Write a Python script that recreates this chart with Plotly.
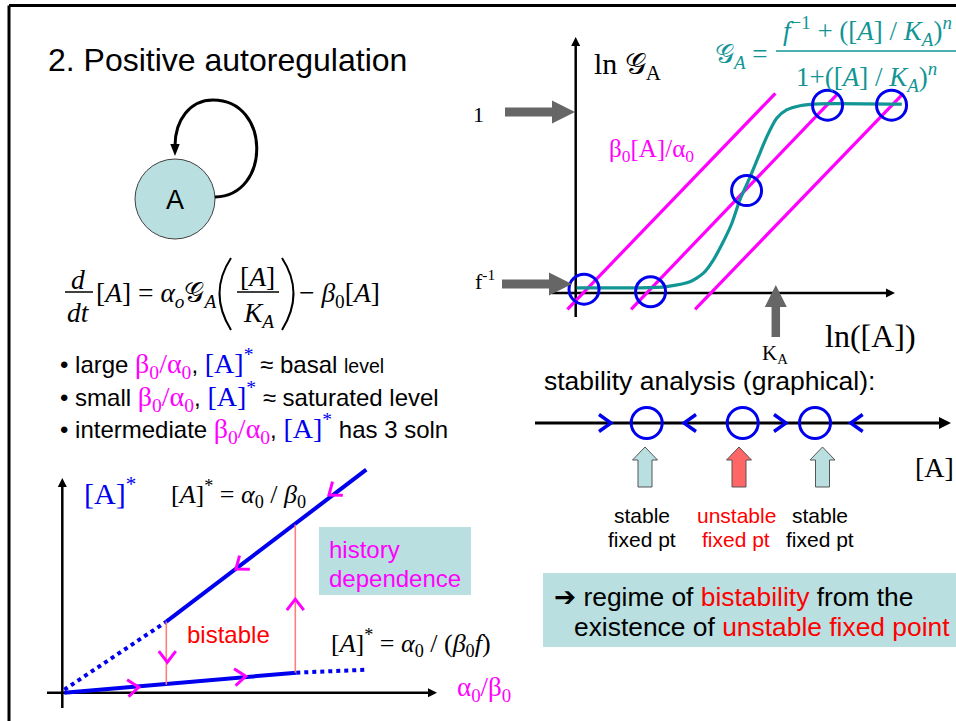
import math
import plotly.graph_objects as go

W, H = 956, 721

# ---------------- data ----------------
# Top-right plot: ln G_A versus ln([A]) (log units, origin at the axis crossing)
sig_lnA = [0.03, 1.00, 2.01, 2.84, 3.57, 3.99, 4.30, 4.61, 4.88, 5.13, 5.45, 5.71,
           5.97, 6.28, 6.59, 7.01, 7.63, 10.19]
sig_lnG = [0.16, 0.16, 0.16, 0.20, 0.35, 0.62, 1.03, 1.60, 2.18, 2.91, 3.63, 4.26,
           4.88, 5.46, 5.72, 5.85, 5.91, 5.90]
# degradation lines beta0[A]/alpha0 for three values of beta0/alpha0
deg_lnA_start = [-0.26, 1.73, 3.73]
deg_lnA_end = [6.24, 8.20, 10.24]
deg_lnG_start = [-0.51, -0.51, -0.51]
deg_lnG_end = [6.24, 6.24, 6.24]
# intersections (fixed points)
fp_lnA = [0.26, 2.34, 5.34, 7.87, 9.87]
fp_lnG = [0.12, 0.04, 3.20, 5.87, 5.87]

# Bottom-left plot: [A]* versus alpha0/beta0
high_solid_x = [1.04, 3.04]
high_solid_y = [0.71, 2.23]
high_dotted_x = [0.02, 1.04]
high_dotted_y = [0.03, 0.71]
low_solid_x = [0.02, 2.34]
low_solid_y = [0.00, 0.20]
low_dotted_x = [2.34, 3.04]
low_dotted_y = [0.20, 0.23]
jump_down_x = [1.04, 1.04]
jump_down_y = [0.71, 0.08]
jump_up_x = [2.33, 2.33]
jump_up_y = [0.20, 1.68]
flow_x = [2.71, 1.78, 1.05, 2.33, 0.71, 1.78]
flow_y = [2.01, 1.27, 0.36, 0.88, 0.05, 0.16]
flow_dir = ["high", "high", "down", "up", "low", "low"]

# Stability analysis line ([A] axis)
stab_fp = [1.117, 2.077, 2.80]
stab_flow_x = [0.70, 1.55, 2.45, 3.217]
stab_flow_dir = [1, -1, 1, -1]
stab_marker_x = [1.10, 2.04, 2.875]
stab_marker_kind = ["stable", "unstable", "stable"]

# ---------------- styles ----------------
SANS = "Liberation Sans, Arial, DejaVu Sans, sans-serif"
SERIF = "Liberation Serif, Times New Roman, DejaVu Serif, serif"
MAG = "#FF00FF"
BLUE = "#0000EE"
TEAL = "#129595"
RED = "#FF0000"
GRAY = "#666666"
BOXFILL = "#B9DFE1"
SALMON = "#FF7F7F"

shapes, anns, traces = [], [], []
layout_axes = {}


def make_axes(n, left, right, top, bottom, ox, oy, scale):
    layout_axes[f"xaxis{n}"] = dict(domain=[left / W, right / W],
                                    range=[(left - ox) / scale, (right - ox) / scale],
                                    visible=False, anchor=f"y{n}", fixedrange=True)
    layout_axes[f"yaxis{n}"] = dict(domain=[1 - bottom / H, 1 - top / H],
                                    range=[(oy - bottom) / scale, (oy - top) / scale],
                                    visible=False, anchor=f"x{n}", fixedrange=True)
    return lambda x, y: (ox + x * scale, oy - y * scale)


def line(x0, y0, x1, y1, color="black", width=3, dash=None, layer="above"):
    shapes.append(dict(type="line", xref="x", yref="y", x0=x0, y0=y0, x1=x1, y1=y1,
                       line=dict(color=color, width=width, dash=dash), layer=layer))


def path(d, color="black", width=3, fill="rgba(0,0,0,0)", layer="above"):
    shapes.append(dict(type="path", xref="x", yref="y", path=d, fillcolor=fill,
                       line=dict(color=color, width=width), layer=layer))


def poly(pts, fill, outline=None, lw=0, layer="above"):
    d = "M " + " L ".join(f"{x:.2f},{y:.2f}" for x, y in pts) + " Z"
    shapes.append(dict(type="path", xref="x", yref="y", path=d, fillcolor=fill,
                       line=dict(color=outline or fill, width=lw), layer=layer))


def unit(x0, y0, x1, y1):
    dx, dy = x1 - x0, y1 - y0
    L = math.hypot(dx, dy)
    return dx / L, dy / L


def axis_arrow(x0, y0, x1, y1, width=2.5, head_len=9, head_w=9, color="black"):
    ux, uy = unit(x0, y0, x1, y1)
    px, py = -uy, ux
    bx, by = x1 - ux * head_len, y1 - uy * head_len
    line(x0, y0, bx + ux, by + uy, color=color, width=width, layer="below")
    poly([(x1, y1), (bx + px * head_w / 2, by + py * head_w / 2),
          (bx - px * head_w / 2, by - py * head_w / 2)], color, layer="below")


def block_arrow(x0, y0, x1, y1, shaft_w, head_w, head_len, fill, outline=None, lw=0):
    ux, uy = unit(x0, y0, x1, y1)
    px, py = -uy, ux
    nx, ny = x1 - ux * head_len, y1 - uy * head_len
    s, h = shaft_w / 2, head_w / 2
    pts = [(x0 + px * s, y0 + py * s), (nx + px * s, ny + py * s), (nx + px * h, ny + py * h),
           (x1, y1), (nx - px * h, ny - py * h), (nx - px * s, ny - py * s),
           (x0 - px * s, y0 - py * s)]
    poly(pts, fill, outline, lw)


def chevron(cx, cy, ux, uy, depth, width, color, lw=3):
    px, py = -uy, ux
    tip = (cx + ux * depth / 2, cy + uy * depth / 2)
    a = (cx - ux * depth / 2 + px * width / 2, cy - uy * depth / 2 + py * width / 2)
    b = (cx - ux * depth / 2 - px * width / 2, cy - uy * depth / 2 - py * width / 2)
    path(f"M {a[0]:.2f},{a[1]:.2f} L {tip[0]:.2f},{tip[1]:.2f} L {b[0]:.2f},{b[1]:.2f}",
         color=color, width=lw)


def text(x, y, t, size, color="black", family=SANS, xanchor="center", yanchor="middle"):
    anns.append(dict(x=x, y=y, xref="x", yref="y", text=t, showarrow=False,
                     font=dict(size=size, color=color, family=family),
                     xanchor=xanchor, yanchor=yanchor))


def span(s, color, size, family="Liberation Serif"):
    return f'<span style="font-family:{family};color:{color};font-size:{size}px">{s}</span>'


# ---------------- frame and title ----------------
line(9, 5.5, 956, 5.5, width=3)
line(9, 5.5, 9, 721, width=3)
text(46, 60, "2. Positive autoregulation", 32, xanchor="left")

# ---------------- node with self loop ----------------
shapes.append(dict(type="circle", xref="x", yref="y", x0=135, y0=159, x1=215, y1=239,
                   fillcolor=BOXFILL, line=dict(color="#404040", width=1), layer="below"))
text(175, 200, "A", 27)
path("M 215,197 C 271,196 271,100 213,100 C 190,100 175,120 175,146", width=3)
poly([(175, 156), (170.3, 144), (179.7, 144)], "black")

# ---------------- rate equation ----------------
EQ = 27.5
text(78, 279, "<i>d</i>", EQ, family=SERIF)
line(65, 292, 93, 292, width=1.5)
text(78, 312, "<i>dt</i>", EQ, family=SERIF)
text(94, 294, "[<i>A</i>] = <i>α<sub>o</sub></i>𝒢<sub><i>A</i></sub>", EQ, family=SERIF, xanchor="left")
path("M 231,258 Q 208,293 231,330", width=2)
text(257, 276, "[<i>A</i>]", EQ, family=SERIF)
line(237, 292, 279, 292, width=1.5)
text(258, 314, "<i>K<sub>A</sub></i>", EQ, family=SERIF)
path("M 282,258 Q 305,293 282,330", width=2)
text(297, 294, "− <i>β</i><sub>0</sub>[<i>A</i>]", EQ, family=SERIF, xanchor="left")

# ---------------- bullets ----------------
ba = span("β<sub>0</sub>/α<sub>0</sub>", MAG, 28)
astar = span("[A]<sup>*</sup>", BLUE, 28)
text(58, 363, f"• large {ba}, {astar} ≈ basal <span style=\"font-size:19.5px\">level</span>", 24, xanchor="left")
text(58, 396, f"• small {ba}, {astar} ≈ saturated level", 24, xanchor="left")
text(58, 428, f"• intermediate {ba}, {astar} has 3 soln", 24, xanchor="left")

# ---------------- bottom-left bifurcation plot ----------------
bif = make_axes(3, 40, 540, 440, 720, 62.3, 692.7, 100.0)
axis_arrow(62.3, 708, 62.3, 478)
axis_arrow(47, 692.7, 437, 692.7)

shapes.append(dict(type="rect", xref="x", yref="y", x0=319, y0=527, x1=471, y1=595,
                   fillcolor=BOXFILL, line=dict(width=0), layer="below"))

for xs, ys, dash in [(high_solid_x, high_solid_y, "solid"), (high_dotted_x, high_dotted_y, "dot"),
                     (low_solid_x, low_solid_y, "solid"), (low_dotted_x, low_dotted_y, "dot")]:
    traces.append(go.Scatter(x=xs, y=ys, mode="lines", xaxis="x3", yaxis="y3",
                             line=dict(color=BLUE, width=4, dash=dash), hoverinfo="skip"))
for xs, ys in [(jump_down_x, jump_down_y), (jump_up_x, jump_up_y)]:
    traces.append(go.Scatter(x=xs, y=ys, mode="lines", xaxis="x3", yaxis="y3",
                             line=dict(color=SALMON, width=1.6), hoverinfo="skip"))

hx0, hy0 = bif(high_solid_x[1], high_solid_y[1])
hx1, hy1 = bif(high_solid_x[0], high_solid_y[0])
lx0, ly0 = bif(low_solid_x[0], low_solid_y[0])
lx1, ly1 = bif(low_solid_x[1], low_solid_y[1])
dirs = {"high": unit(hx0, hy0, hx1, hy1), "low": unit(lx0, ly0, lx1, ly1),
        "down": (0, 1), "up": (0, -1)}
for fx, fy, fd in zip(flow_x, flow_y, flow_dir):
    cx, cy = bif(fx, fy)
    ux, uy = dirs[fd]
    chevron(cx, cy, ux, uy, 11, 17, MAG, lw=3)

text(82, 491, "[A]<sup>*</sup>", 30, BLUE, SERIF, xanchor="left")
text(169, 494, "[<i>A</i>]<sup>*</sup> = <i>α</i><sub>0</sub> / <i>β</i><sub>0</sub>", 26,
     family=SERIF, xanchor="left")
text(327, 549, "history", 24, MAG, xanchor="left")
text(327, 578, "dependence", 24, MAG, xanchor="left")
text(228, 634, "bistable", 24, RED)
text(329, 643, "[<i>A</i>]<sup>*</sup> = <i>α</i><sub>0</sub> / (<i>β</i><sub>0</sub><i>f</i>)", 26,
     family=SERIF, xanchor="left")
text(455, 689, "α<sub>0</sub>/β<sub>0</sub>", 27, MAG, SERIF, xanchor="left")

# ---------------- top-right plot ----------------
gp = make_axes(2, 530, 956, 20, 340, 575.7, 293.0, 32.0)
axis_arrow(575.7, 317, 575.7, 37)
axis_arrow(552, 293, 895, 293)

for xs0, xs1, ys0, ys1 in zip(deg_lnA_start, deg_lnA_end, deg_lnG_start, deg_lnG_end):
    traces.append(go.Scatter(x=[xs0, xs1], y=[ys0, ys1], mode="lines", xaxis="x2", yaxis="y2",
                             line=dict(color=MAG, width=3.2), hoverinfo="skip"))
traces.append(go.Scatter(x=sig_lnA, y=sig_lnG, mode="lines", xaxis="x2", yaxis="y2",
                         line=dict(color=TEAL, width=3.2, shape="spline", smoothing=0.6),
                         hoverinfo="skip"))
traces.append(go.Scatter(x=fp_lnA, y=fp_lnG, mode="markers", xaxis="x2", yaxis="y2",
                         marker=dict(symbol="circle-open", size=30, color=BLUE,
                                     line=dict(color=BLUE, width=3)), hoverinfo="skip"))

block_arrow(505, 112, 575, 112, 9, 23, 23, GRAY)
block_arrow(502, 284, 572, 284, 9, 23, 23, GRAY)
block_arrow(775.8, 337, 775.8, 285, 8.5, 22, 22, GRAY)

text(478, 114, "1", 22, family=SERIF)
text(473, 280, "f<sup>-1</sup>", 22, family=SERIF, xanchor="left")
text(592, 66, "ln 𝒢<sub>A</sub>", 30, family=SERIF, xanchor="left")
text(607, 150, "β<sub>0</sub>[A]/α<sub>0</sub>", 25, MAG, SERIF, xanchor="left")
text(760, 354, "K<sub>A</sub>", 21, family=SERIF, xanchor="left")
text(823, 336, "ln([A])", 32, family=SERIF, xanchor="left")

# G_A formula
text(713, 56, "𝒢<sub><i>A</i></sub> =", 27, TEAL, SERIF, xanchor="left")
text(867, 31, "<i>f</i><sup>−1</sup> + ([<i>A</i>] / <i>K<sub>A</sub></i>)<sup><i>n</i></sup>", 27,
     TEAL, SERIF)
line(776, 51, 956, 51, color=TEAL, width=1.5)
text(866, 77, "1+([<i>A</i>] / <i>K<sub>A</sub></i>)<sup><i>n</i></sup>", 27, TEAL, SERIF)

# ---------------- stability analysis ----------------
st = make_axes(4, 520, 956, 400, 446, 535, 423, 100.0)
text(542, 381, "stability analysis (graphical):", 26.5, xanchor="left")
axis_arrow(535, 423, 951, 423, width=3, head_len=12, head_w=12)
traces.append(go.Scatter(x=stab_fp, y=[0] * len(stab_fp), mode="markers", xaxis="x4", yaxis="y4",
                         marker=dict(symbol="circle-open", size=31, color=BLUE,
                                     line=dict(color=BLUE, width=3)), hoverinfo="skip"))
for fx, fd in zip(stab_flow_x, stab_flow_dir):
    cx, cy = st(fx, 0)
    chevron(cx, cy, fd, 0, 12, 17, BLUE, lw=3.4)

for mx, kind in zip(stab_marker_x, stab_marker_kind):
    cx, _ = st(mx, 0)
    fill = "#FF6666" if kind == "unstable" else BOXFILL
    block_arrow(cx, 487, cx, 447, 14, 25, 13, fill, "#555555", 1)
    col = RED if kind == "unstable" else "black"
    text(cx - 3, 515, kind, 21, col)
    text(cx - 3, 539, "fixed pt", 21, col)

text(956, 467, "[A]", 28, family=SERIF, xanchor="right")

shapes.append(dict(type="rect", xref="x", yref="y", x0=543, y0=573, x1=957, y1=647,
                   fillcolor=BOXFILL, line=dict(width=0), layer="below"))
text(552, 597, f"➔ regime of <span style=\"color:{RED}\">bistability</span> from the", 26.4, xanchor="left")
text(572, 627, f"existence of <span style=\"color:{RED}\">unstable fixed point</span>", 26.4, xanchor="left")

# ---------------- figure ----------------
fig = go.Figure(data=traces)
fig.update_layout(
    width=W, height=H, autosize=False,
    margin=dict(l=0, r=0, t=0, b=0, pad=0),
    paper_bgcolor="white", plot_bgcolor="rgba(0,0,0,0)",
    showlegend=False,
    xaxis=dict(domain=[0, 1], range=[0, W], visible=False, fixedrange=True),
    yaxis=dict(domain=[0, 1], range=[H, 0], visible=False, fixedrange=True),
    shapes=shapes, annotations=anns,
    **layout_axes,
)
fig.write_html("out.html", config={"displayModeBar": False},
               post_script="document.body.style.margin='0px';")
